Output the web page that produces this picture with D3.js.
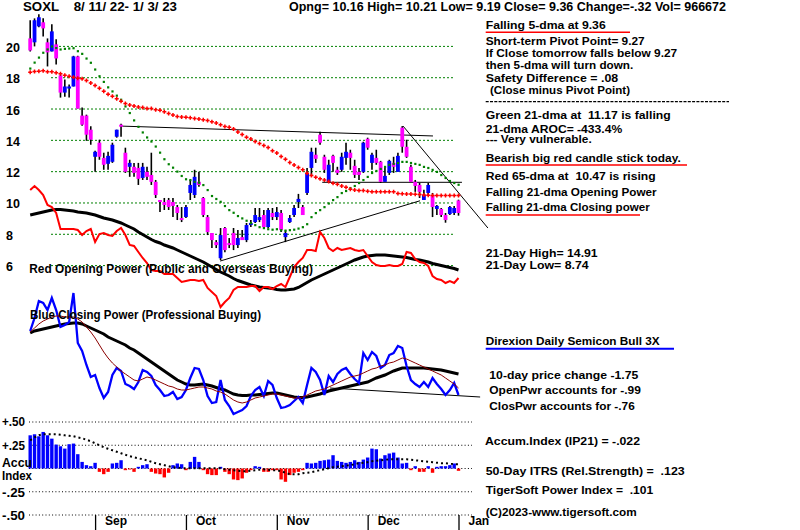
<!DOCTYPE html>
<html><head><meta charset="utf-8">
<script src="https://cdn.jsdelivr.net/npm/d3@7"></script>
<style>
body{margin:0;background:#fff}
svg{display:block}
text{font-family:"Liberation Sans",Arial,sans-serif;font-weight:bold;font-size:12px;fill:#000;white-space:pre}
text.side{font-size:11.2px}
text.tight{font-size:10.4px}
</style></head>
<body><svg id="c" width="800" height="530"></svg>
<script>
// ---------- DATA ----------
const monthLabels = ["Sep","Oct","Nov","Dec","Jan"];
const monthStartIdx = [15,36,57,78,99];
const priceTicks = [6,8,10,12,14,16,18,20];
const accumTicks = [0.5,0.25,0,-0.25,-0.5];

const openP = [20.51,20.26,21.28,21.54,20.26,19.68,20.13,18.14,17.05,17.31,17.44,19.36,15.58,15.58,14.68,12.95,13.85,12.88,12.50,12.63,
14.23,15.00,13.21,12.31,12.31,12.24,11.60,11.99,11.79,11.35,10.19,10.06,10.19,10.06,9.74,9.04,9.10,10.64,10.51,11.35,
10.32,9.10,8.08,7.50,6.47,8.40,7.44,8.08,7.31,7.82,7.63,8.59,8.78,8.91,9.23,8.46,9.36,9.10,9.36,7.82,
8.78,9.23,10.06,9.74,10.64,12.24,13.08,14.36,12.95,11.35,13.01,12.12,12.12,12.88,13.21,12.37,11.99,11.99,14.10,12.56,
12.88,12.63,11.35,11.92,12.56,11.99,14.81,13.59,12.31,11.35,11.15,10.19,10.64,10.51,9.62,9.62,9.23,9.29,9.36,10.16];
const highP = [21.67,21.79,22.05,21.79,20.51,21.41,20.45,18.21,17.88,17.56,19.40,19.40,16.09,15.64,14.90,13.33,14.04,13.21,13.27,13.85,
14.68,15.06,13.53,12.76,12.56,12.56,12.56,12.31,13.21,11.47,10.19,10.32,10.32,10.32,9.87,9.74,9.87,11.47,12.12,11.99,
10.38,9.23,8.08,7.63,8.40,8.46,7.76,8.40,8.27,8.27,8.72,8.91,9.68,9.68,9.55,9.68,9.68,9.74,9.55,8.27,
9.23,9.87,10.58,9.87,12.24,13.53,13.53,14.55,13.08,12.76,13.08,12.31,13.21,13.85,13.40,12.76,12.24,13.91,14.17,13.21,
13.40,12.69,12.31,12.76,12.95,13.21,14.91,14.04,12.44,11.47,11.28,10.84,11.28,10.64,9.87,9.68,9.36,9.81,9.81,10.21];
const lowP = [19.68,20.00,21.22,20.64,18.72,19.68,18.85,16.73,16.79,16.73,17.44,16.03,14.94,13.97,13.72,11.99,12.76,12.12,12.12,12.56,
14.17,14.23,11.92,11.67,11.67,11.15,11.47,11.47,11.15,10.32,9.42,9.55,9.55,9.10,8.91,8.78,9.04,10.19,10.32,11.03,
9.10,7.95,7.12,7.12,6.35,6.86,7.12,6.99,7.12,7.63,7.50,8.46,8.72,8.78,8.40,8.40,8.91,8.91,8.14,7.50,
8.72,9.10,9.68,9.23,10.51,11.79,12.56,13.72,11.92,11.28,11.99,11.79,11.99,12.44,12.12,11.60,11.47,11.92,13.40,12.12,
12.44,11.28,11.35,11.79,11.92,11.99,13.21,12.88,11.35,10.71,10.32,10.19,10.51,9.10,9.23,9.10,8.74,9.23,9.23,9.19];
const closeP = [19.74,21.67,21.86,21.15,19.62,20.96,19.23,17.05,17.44,17.44,19.36,16.03,15.00,14.36,14.04,13.27,12.95,12.44,13.01,13.72,
14.68,14.87,11.99,12.56,11.92,11.54,12.31,11.67,11.35,10.51,10.06,9.87,9.74,9.81,9.36,8.91,9.74,11.15,11.67,11.15,
9.23,8.14,7.63,7.31,7.95,6.99,7.31,7.31,7.76,7.63,8.59,8.72,9.23,9.10,8.46,9.55,9.10,9.42,8.27,8.08,
9.04,9.68,10.26,9.23,11.92,13.27,12.82,13.85,12.12,12.44,12.56,11.92,12.95,13.27,12.88,11.79,11.79,13.85,13.53,13.08,
12.56,11.35,11.73,12.69,12.31,13.01,13.59,12.95,11.35,11.09,10.71,10.51,11.15,9.74,9.81,9.23,8.91,9.74,9.68,9.36];

const ma21 = [18.59,18.97,19.29,19.60,19.81,20.00,19.90,19.81,19.85,19.87,19.89,19.70,19.53,19.23,18.96,18.53,18.10,17.74,17.39,17.13,
16.86,16.60,16.17,15.75,15.28,14.87,14.51,14.19,13.93,13.61,13.22,12.80,12.48,12.26,12.01,11.73,11.52,11.47,11.36,11.30,
11.15,10.83,10.45,10.26,10.08,9.81,9.55,9.38,9.17,9.02,8.87,8.72,8.59,8.46,8.40,8.33,8.30,8.33,8.27,8.24,
8.27,8.30,8.37,8.46,8.65,9.10,9.36,9.55,9.74,9.97,10.19,10.38,10.64,10.77,10.96,11.09,11.28,11.47,11.67,11.92,
12.05,12.18,12.31,12.44,12.50,12.56,12.63,12.63,12.56,12.50,12.44,12.31,12.24,12.12,11.99,11.79,11.60,11.41,11.28,11.17];
const ma65 = [18.35,18.40,18.42,18.44,18.38,18.38,18.31,18.25,18.16,18.10,18.03,17.97,17.93,17.82,17.67,17.50,17.33,17.14,16.94,16.81,
16.65,16.49,16.35,16.26,16.20,16.13,16.09,16.04,16.03,15.96,15.92,15.83,15.71,15.62,15.53,15.49,15.47,15.45,15.40,15.37,
15.32,15.26,15.19,15.11,15.00,14.89,14.83,14.72,14.53,14.38,14.19,14.08,13.93,13.80,13.67,13.54,13.33,13.19,12.97,12.80,
12.58,12.42,12.26,12.12,11.90,11.75,11.65,11.54,11.47,11.37,11.26,11.20,11.09,11.01,10.88,10.83,10.79,10.79,10.75,10.72,
10.72,10.71,10.71,10.71,10.71,10.60,10.59,10.58,10.58,10.56,10.54,10.51,10.50,10.47,10.47,10.47,10.47,10.47,10.47,10.47];

// trend lines on price chart: [barIndex, price]
const resistanceLine = [[21,14.91],[93.1,14.28]];
const supportLine = [[43.9,6.29],[90.1,10.14]];
const flatLine = [[67.5,11.32],[99.8,11.32]];
const downLine = [[86.2,14.91],[105.8,8.40]];

// Opening Power (red) and its moving average (black)
const openPower = [120,124,120,115,105,103,97,81,81,81,81,80,75,79,81,68,76,77,75,74,
79,82,75,65,64,58,52,47,40,39,39,36,36,36,32,28,29,30,30,29,
30,22,18,14,3,8,12,20,23,23,23,24,24,19,23,23,21,24,26,23,
33,43,48,52,60,60,59,78,72,62,59,62,60,61,62,60,59,60,54,48,
45,44,44,45,44,44,46,58,57,51,48,47,44,34,31,30,27,29,27,32];
const openPowerMA = [95,96,97,98,99,100,100.5,100.5,100,99.5,99,98,97.5,97,96,95,93.5,92,91,90,
88.5,87,85,83,81,78,75.5,73,70.5,68.5,67,65,63.5,62,60,58,56,54,52,50,
48,45.5,43,40.5,38,36,34,31.5,29.5,28,26.5,25,24,23,22.5,22,21.5,20.5,20,20,
20.5,21,22.5,25,27.5,30,32,34,36,38,40,42,44,46,48,50,51.5,53,54,54.5,
55,55,55,54.5,54,53.5,53,52.5,51.5,50.5,50,49,48,46.5,45.5,44.5,43.5,42.5,41.5,40];

// Closing Power (blue), short MA (brown), long MA (black)
const closePower = [89,102,119,117,110,122,110,93,95,98,127,77,69,55,43,45,32,22,28,45,
52,49,36,34,31,38,50,48,44,35,30,24,25,28,21,23,30,42,52,51,
40,24,17,18,40,20,14,6,8,10,14,24,30,33,24,39,35,22,12,13,
15,19,23,17,35,52,48,40,25,44,38,46,50,52,46,41,37,67,60,68,
64,52,55,65,67,74,72,54,40,36,33,38,33,42,36,31,25,30,37,25];
const closePowerMA1 = [88,92,96,99,101,103,104,104,103,103,103,101,98,93,88,82,75,68,62,57,
53,49,46,43,40,39,41,43,42,40,38,36,34,33,31,30,30,31,32,33,
33,32,31,29,28,26,23,20,18,17,18,20,22,23,24,25,26,26,25,24,
23,22,22,23,25,27,29,30,31,33,35,37,39,41,43,44,45,47,49,51,
52,54,55,57,58,60,62,61,59,57,55,53,51,49,47,45,42,39,36,32];
const closePowerMA2 = [87,89,90,91,92,93,94,95,96,96.5,97,97,96,94,92,90,88,86,83,81,
79,77,75,72,70,67,64,61,58,55,52,49,46,43,40,38,36,35,35,35.5,
36,35,34,32.5,31,30,28,26,25,24.5,24.5,25,25,25.5,26,26.5,27,27,26,25,
24,23,22.5,22.5,23,24,25,26,27.5,29,30,31,32,33,34,35,36,37,38,40,
42,43.5,45,47,49,50.5,52,52,52,52,52,52,51.5,51,50.5,50,49,48,47,46];
const closePowerLine = [[69.3,32],[104,23]];

// Accumulation Index (IP21) and its moving average
const accum = [.357,.368,.346,.393,.357,.321,.257,.239,.214,.261,.268,.154,.071,.036,.025,.061,-.036,-.061,-.036,.054,
.061,.089,-.018,-.011,-.036,.018,.036,.046,-.036,-.054,-.061,-.096,-.046,.036,.054,.046,-.018,.071,.125,.071,
-.018,-.061,-.071,-.071,.018,-.036,-.061,-.118,-.125,-.107,-.046,-.018,.025,.018,-.036,-.036,-.018,-.018,-.118,-.143,
-.071,-.046,-.036,-.018,.061,.054,.061,.082,.089,.096,.143,.082,.071,.061,.071,.089,.071,.096,.118,.214,
.207,.107,.143,.161,.171,.118,.054,.061,-.018,.025,-.036,-.036,.025,-.046,.018,.025,.025,.036,.054,-.025];
const accumMA = [.303,.335,.357,.368,.368,.368,.368,.362,.357,.352,.346,.335,.325,.309,.293,.271,.250,.228,.212,.196,
.180,.164,.148,.132,.121,.110,.099,.088,.073,.057,.046,.036,.025,.014,.009,.003,.003,.003,.003,.003,
.003,.003,.003,.003,.003,-.008,-.013,-.018,-.024,-.029,-.029,-.024,-.018,-.013,-.008,-.013,-.018,-.018,-.029,-.045,
-.061,-.061,-.061,-.050,-.045,-.040,-.029,-.018,-.008,.003,.014,.020,.025,.030,.036,.046,.057,.062,.068,.078,
.084,.088,.094,.099,.099,.099,.099,.099,.094,.088,.084,.078,.073,.068,.062,.057,.057,.051,.046,.046];

// ---------- TEXTS ----------
const headerTexts = [
  ["SOXL    8/ 11/ 22- 1/ 3/ 23", 23, 11.3, 154],
  ["Opng= 10.16 High= 10.21 Low= 9.19 Close= 9.36 Change=-.32 Vol= 966672", 289, 11.3, 437]
];
const sideTexts = [
  ["Falling 5-dma at 9.36", 485.7, 29.3, 120],
  ["Short-term Pivot Point= 9.27", 485.7, 45, 159],
  ["If Close tomorrow falls below 9.27", 485.7, 57.3, 191.5],
  ["then 5-dma will turn down.", 485.7, 69, 147.5],
  ["Safety Difference = .08", 485.7, 82, 132.5],
  ["(Close minus Pivot Point)", 490, 93.8, 140],
  ["Green 21-dma at  11.17 is falling", 485.7, 118.7, 185],
  ["Bearish big red candle stick today.", 485.7, 162, 195],
  ["Red 65-dma at  10.47 is rising", 485.7, 180, 170],
  ["Falling 21-dma Opening Power", 485.7, 196.3, 171],
  ["Falling 21-dma Closing power", 485.7, 211, 164],
  ["21-Day High= 14.91", 485.7, 257, 112],
  ["21-Day Low= 8.74", 485.7, 269.3, 103],
  ["Direxion Daily Semicon Bull 3X", 485.7, 345.3, 174],
  ["10-day price change -1.75", 489.3, 378.7, 149],
  ["OpenPwr accounts for -.99", 489.3, 393.7, 151.5],
  ["ClosPwr accounts for -.76", 489.3, 409.7, 145.5],
  ["Accum.Index (IP21) = -.022", 485, 444.7, 155],
  ["50-Day ITRS (Rel.Strength) =  .123", 485.7, 475.3, 199],
  ["TigerSoft Power Index =  .101", 485.7, 493.7, 167.5],
  ["(C)2023-www.tigersoft.com", 485.7, 516, 151]
];
const tightTexts = [
  ["21-dma AROC= -433.4%", 485.7, 132.8, 136.5],
  ["--- Very vulnerable.", 485.7, 143.3, 106]
];
const panelTitles = [
  ["Red Opening Power (Public and Overseas Buying)", 29.3, 272.7, 283.7],
  ["Blue Closing Power (Professional Buying)", 30, 319, 231]
];
const accumLabels = [["+.50",2,426,23],["+.25",2,450,23],["Accu",2,467,30],["Index",2,479.5,30],["-.25",2,497,23],["-.50",2,519.5,23]];

// ---------- DRAW ----------
const svg = d3.select("#c");
svg.append("rect").attr("width",800).attr("height",530).attr("fill","#fff");

const N = closeP.length;
const x = d3.scaleLinear().domain([0, N-1]).range([30.2, 458.5]);
const yP = d3.scaleLinear().domain([6,20]).range([265.6, 46.4]);
const yOP = d3.scaleLinear().domain([0,100]).range([310,210]);
const yCP = d3.scaleLinear().domain([0,100]).range([420,320]);
const yA = d3.scaleLinear().domain([-0.5,0.5]).range([515,422]);

// price gridlines
svg.append("g").selectAll("line").data(priceTicks).join("line")
  .attr("x1",51).attr("x2",453).attr("y1",d=>yP(d)).attr("y2",d=>yP(d))
  .attr("stroke","#008000").attr("stroke-width",1).attr("stroke-dasharray","2,2");

// price axis labels
const pAxis = svg.append("g")
  .call(d3.axisLeft(yP).tickValues(priceTicks).tickSize(0).tickFormat(d3.format("d")));
pAxis.select(".domain").remove();
pAxis.selectAll("text").attr("x",6).attr("dy",null).attr("y",5)
  .attr("text-anchor","start").attr("font-size",null).attr("font-family",null).attr("fill","#000")
  .style("font-size","12.5px");

// accum dotted gridlines
svg.append("g").selectAll("line").data(accumTicks).join("line")
  .attr("x1",29).attr("x2",472).attr("y1",d=>yA(d)).attr("y2",d=>yA(d))
  .attr("stroke","#000").attr("stroke-width",1).attr("stroke-dasharray","1,2.3");

// month axis
const mAxis = svg.append("g").attr("transform","translate(0,515)")
  .call(d3.axisBottom(x).tickValues(monthStartIdx).tickSize(15)
    .tickFormat((d,i)=>monthLabels[i]));
mAxis.select(".domain").remove();
mAxis.selectAll("line").attr("stroke","#000").attr("stroke-width",1.3);
mAxis.selectAll("text").attr("text-anchor","start").attr("x",9.5).attr("y",10).attr("dy",null)
  .attr("font-size",null).attr("font-family",null).attr("fill","#000");

// trend lines on price chart
const lineP = d3.line().x(d=>x(d[0])).y(d=>yP(d[1]));
[resistanceLine, supportLine, flatLine, downLine].forEach(l=>{
  svg.append("path").attr("d",lineP(l)).attr("fill","none").attr("stroke","#000").attr("stroke-width",1);
});

// Opening power lines
const idx = d3.range(N);
svg.append("path").attr("d", d3.line().x(i=>x(i)).y(i=>yOP(openPowerMA[i]))(idx))
  .attr("fill","none").attr("stroke","#000").attr("stroke-width",3);
svg.append("path").attr("d", d3.line().x(i=>x(i)).y(i=>yOP(openPower[i]))(idx))
  .attr("fill","none").attr("stroke","#ff0000").attr("stroke-width",2);

// Closing power lines
svg.append("path").attr("d", d3.line().x(d=>x(d[0])).y(d=>yCP(d[1]))(closePowerLine))
  .attr("fill","none").attr("stroke","#000").attr("stroke-width",1);
svg.append("path").attr("d", d3.line().x(i=>x(i)).y(i=>yCP(closePowerMA2[i]))(idx))
  .attr("fill","none").attr("stroke","#000").attr("stroke-width",3);
svg.append("path").attr("d", d3.line().x(i=>x(i)).y(i=>yCP(closePower[i]))(idx))
  .attr("fill","none").attr("stroke","#0000ff").attr("stroke-width",2.3);
svg.append("path").attr("d", d3.line().x(i=>x(i)).y(i=>yCP(closePowerMA1[i]))(idx))
  .attr("fill","none").attr("stroke","#8b0000").attr("stroke-width",1);

// candles
const cg = svg.append("g");
cg.selectAll("line").data(idx).join("line")
  .attr("x1",i=>x(i)).attr("x2",i=>x(i)).attr("y1",i=>yP(highP[i])).attr("y2",i=>yP(lowP[i]))
  .attr("stroke","#000").attr("stroke-width",1.6);
cg.selectAll("rect").data(idx).join("rect")
  .attr("x",i=>x(i)-1.9).attr("width",3.8)
  .attr("y",i=>yP(Math.max(openP[i],closeP[i])))
  .attr("height",i=>Math.max(1.5, Math.abs(yP(openP[i])-yP(closeP[i]))))
  .attr("fill",i=>closeP[i]>=openP[i] ? "#0000ff" : "#ff00ff");

// moving averages
svg.append("g").selectAll("rect").data(idx).join("rect")
  .attr("x",i=>x(i)-1).attr("y",i=>yP(ma21[i])-1).attr("width",2.2).attr("height",2.2).attr("fill","#008000");
svg.append("g").selectAll("path").data(idx).join("path")
  .attr("d",i=>{const cx=x(i), cy=yP(ma65[i]); return `M${cx-2},${cy}H${cx+2}M${cx},${cy-2}V${cy+2}`;})
  .attr("stroke","#ff0000").attr("stroke-width",1.5).attr("fill","none");

// accumulation bars
svg.append("g").selectAll("rect").data(idx).join("rect")
  .attr("x",i=>x(i)-1.7).attr("width",3.4)
  .attr("y",i=>Math.min(yA(accum[i]),yA(0)))
  .attr("height",i=>Math.abs(yA(accum[i])-yA(0)))
  .attr("fill",i=>accum[i]>=0 ? "#0000ff" : "#ff0000");
svg.append("path").attr("d", d3.line().x(i=>x(i)).y(i=>yA(accumMA[i]))(idx))
  .attr("fill","none").attr("stroke","#000").attr("stroke-width",2).attr("stroke-dasharray","2,3");

// texts
function addTexts(arr, cls){
  svg.append("g").selectAll("text").data(arr).join("text")
    .attr("class",cls||null)
    .attr("x",d=>d[1]).attr("y",d=>d[2]).attr("textLength",d=>d[3])
    .attr("lengthAdjust","spacingAndGlyphs").text(d=>d[0]);
}
addTexts(headerTexts);
addTexts(sideTexts, "side");
addTexts(tightTexts, "tight");
addTexts(panelTitles);
addTexts(accumLabels);

// separator and underlines
svg.append("line").attr("x1",485.7).attr("x2",729).attr("y1",101.7).attr("y2",101.7)
  .attr("stroke","#000").attr("stroke-width",1.2).attr("stroke-dasharray","3,1.3");
[[32.3,630],[165,687],[215,640]].forEach(u=>{
  svg.append("line").attr("x1",485.7).attr("x2",u[1]).attr("y1",u[0]).attr("y2",u[0])
    .attr("stroke","#ff0000").attr("stroke-width",1.6);
});
svg.append("line").attr("x1",485.7).attr("x2",674).attr("y1",348.7).attr("y2",348.7)
  .attr("stroke","#0000ff").attr("stroke-width",2);
</script></body></html>
